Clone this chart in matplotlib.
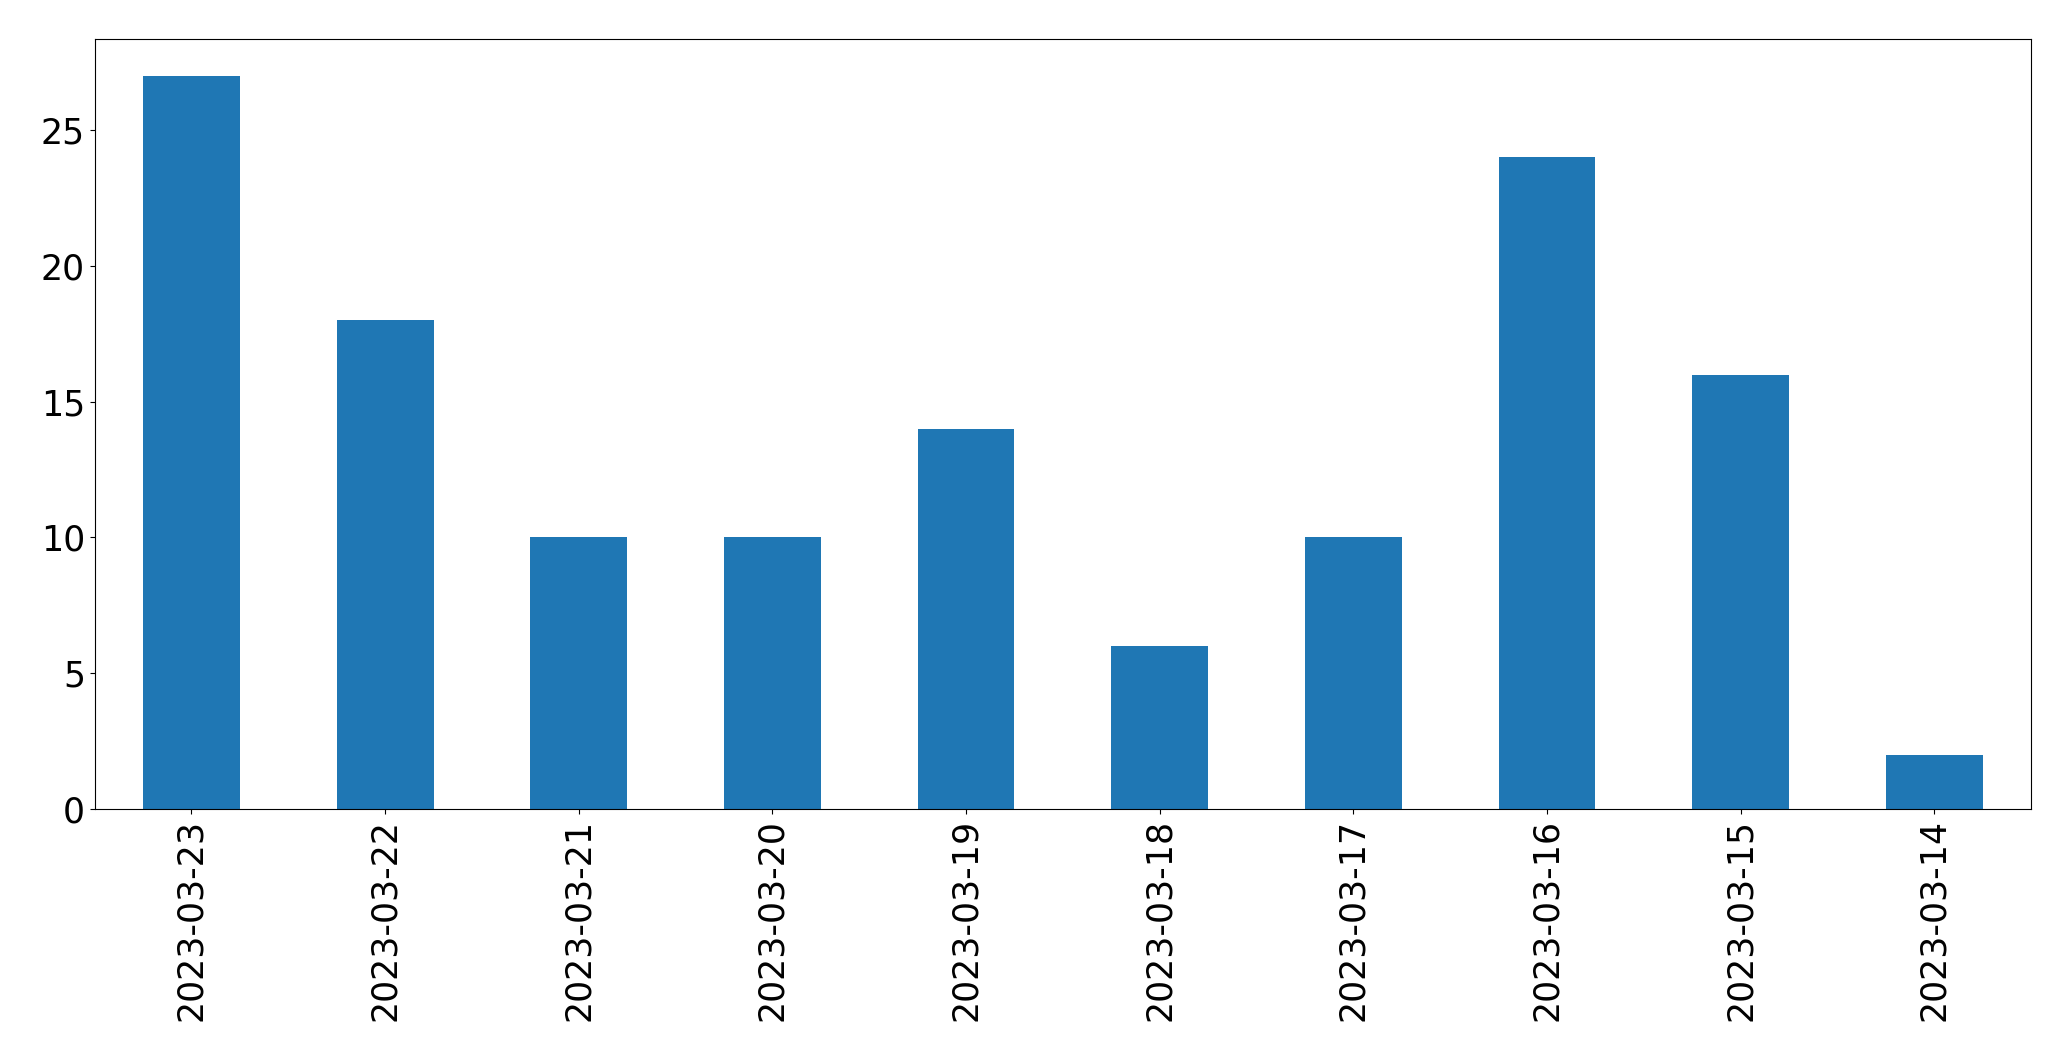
import numpy as np
import matplotlib.pyplot as plt

# datas
dates = ["2023-03-23", "2023-03-22", "2023-03-21", "2023-03-20", "2023-03-19",
         "2023-03-18", "2023-03-17", "2023-03-16", "2023-03-15", "2023-03-14"]
counts = [27, 18, 10, 10, 14, 6, 10, 24, 16, 2]


def main():
    fig, ax = plt.subplots(figsize=(20.71, 10.61), dpi=100)
    fig.subplots_adjust(left=0.0457, right=0.9807, top=0.963, bottom=0.2375)

    x = np.arange(len(dates))
    ax.bar(x, counts, width=0.5, color="#1f77b4")

    ax.set_xlim(-0.5, len(dates) - 0.5)
    ax.set_ylim(0, max(counts) * 1.05)
    ax.set_xticks(x)
    ax.set_xticklabels(dates, rotation=90)
    ax.set_yticks([0, 5, 10, 15, 20, 25])
    ax.tick_params(axis="both", labelsize=25)

    fig.savefig("out.png", dpi=100)


if __name__ == "__main__": main()
